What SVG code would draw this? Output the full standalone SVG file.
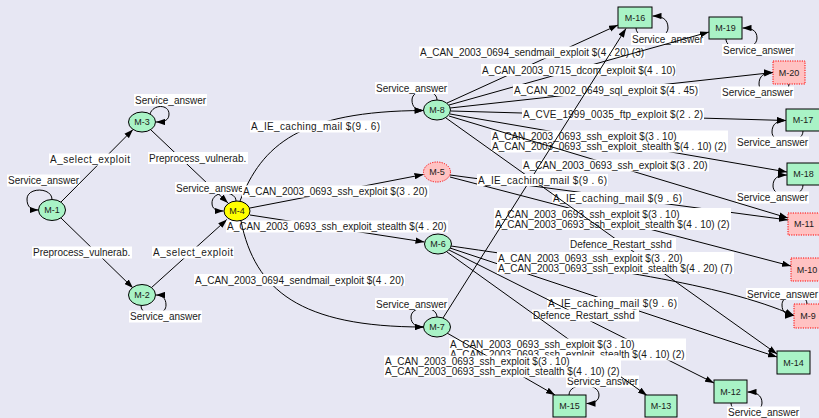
<svg xmlns="http://www.w3.org/2000/svg" width="819" height="418" viewBox="0 0 819 418">
<defs>
<marker id="ah" viewBox="0 0 10 7" refX="10" refY="3.5" markerWidth="9" markerHeight="6.5" markerUnits="userSpaceOnUse" orient="auto"><path d="M0,0L10,3.5L0,7z" fill="#000"/></marker>
<style>
.e{fill:none;stroke:#000;stroke-width:1;marker-end:url(#ah)}
.bg{fill:#fff}
text{font-family:"Liberation Sans",Arial,Helvetica,sans-serif;font-size:10px;fill:#1a1a1a}
.nt{font-size:9px;text-anchor:middle}
.g{fill:#a9f3c6;stroke:#000;stroke-width:1}
.p{fill:#ffc2c2;stroke:#f00;stroke-width:1;stroke-dasharray:1.2,1.2}
.y{fill:#ff0;stroke:#000;stroke-width:1}
</style>
</defs>
<rect width="819" height="418" fill="#e7e7f3"/>

<g id="connectors">
<!-- left part of the graph -->
<path class="e" d="M52,199.5 C52,187 27,187 27,199 C27,207 31,210 38.5,210"/>
<rect class="bg" x="7" y="174.5" width="73" height="12"/><text x="8" y="184">Service_answer</text>
<path class="e" d="M61,202 L133,129.5"/>
<rect class="bg" x="49" y="153.5" width="82" height="12"/><text x="50" y="163" textLength="80">A_select_exploit</text>
<path class="e" d="M61,218 L133,288"/>
<rect class="bg" x="32" y="246.5" width="100" height="12"/><text x="33" y="256">Preprocess_vulnerab.</text>
<path class="e" d="M150,114 C153,104 169,104 169,114 C169,120 165,122 156,122"/>
<rect class="bg" x="134" y="94" width="73" height="12"/><text x="135" y="103.5">Service_answer</text>
<path class="e" d="M151,130 L228,203"/>
<rect class="bg" x="148" y="152" width="100" height="12"/><text x="149" y="161.5">Preprocess_vulnerab.</text>
<path class="e" d="M141,305.5 C141,318 166,318 166,305 C166,298 162,295 156,295"/>
<rect class="bg" x="129" y="310.5" width="73" height="12"/><text x="130" y="320">Service_answer</text>
<path class="e" d="M151,288 L227,219.5"/>
<rect class="bg" x="152" y="246.5" width="82" height="12"/><text x="153" y="256" textLength="80">A_select_exploit</text>
<path class="e" d="M236,201 C236,190 212,190 212,203 C212,209 216,211 223.5,211"/>
<rect class="bg" x="175" y="182" width="73" height="12"/><text x="176" y="191.5">Service_answer</text>
<path class="e" d="M240,201 C262,145 300,111 423.5,110.5"/>
<rect class="bg" x="250" y="120.5" width="131" height="12"/><text x="251" y="130" textLength="129">A_IE_caching_mail $(9 . 6)</text>
<path class="e" d="M250,208 L423.5,174.5"/>
<rect class="bg" x="242" y="185.5" width="187" height="12"/><text x="243" y="195">A_CAN_2003_0693_ssh_exploit $(3 . 20)</text>
<path class="e" d="M250,215 L424.5,242"/>
<rect class="bg" x="226" y="220.5" width="222" height="12"/><text x="227" y="230">A_CAN_2003_0693_ssh_exploit_stealth $(4 . 20)</text>
<path class="e" d="M241,221 C255,290 300,327 423.5,327"/>
<rect class="bg" x="194" y="274" width="211" height="12"/><text x="195" y="283.5">A_CAN_2003_0694_sendmail_exploit $(4 . 20)</text>

<!-- self loops -->
<path class="e" d="M437,100 C437,88 412,88 412,100 C412,107 416,110.5 423.5,110.5"/>
<rect class="bg" x="375" y="82" width="73" height="12"/><text x="376" y="91.5">Service_answer</text>
<path class="e" d="M437,317 C437,305 411,305 411,317 C411,324 416,327 423.5,327"/>
<rect class="bg" x="375" y="298" width="73" height="12"/><text x="376" y="307.5">Service_answer</text>
<path class="e" d="M636,28 C636,41 668,41 668,28 C668,19 662,16 652.5,16"/>
<rect class="bg" x="631" y="33" width="73" height="12"/><text x="632" y="42.5">Service_answer</text>
<path class="e" d="M726,39 C726,52 757,52 757,38 C757,30 751,28 742.5,28"/>
<rect class="bg" x="722" y="44" width="73" height="12"/><text x="723" y="53.5">Service_answer</text>
<path class="e" d="M789,84 C789,97 759,97 759,84 C759,76 764,72.5 773,72.5"/>
<rect class="bg" x="721" y="86.5" width="73" height="12"/><text x="722" y="96">Service_answer</text>
<path class="e" d="M803,131 C803,145 772,145 772,132 C772,124 777,120.5 786,120.5"/>
<rect class="bg" x="736" y="136.5" width="73" height="12"/><text x="737" y="146">Service_answer</text>
<path class="e" d="M803,185 C803,199 773,199 773,186 C773,178 778,175 787,175"/>
<rect class="bg" x="736" y="191.5" width="73" height="12"/><text x="737" y="201">Service_answer</text>
<path class="e" d="M807,304 C807,292 782,292 782,305 C782,312 786,315.5 794,315.5"/>
<rect class="bg" x="746" y="288" width="73" height="12"/><text x="747" y="297.5">Service_answer</text>
<path class="e" d="M731,403 C731,416 762,416 762,403 C762,395 756,392 747.5,392"/>
<rect class="bg" x="727" y="406.5" width="73" height="12"/><text x="728" y="416">Service_answer</text>
<path class="e" d="M569,395 C569,382 599,382 599,395 C599,401 594,403.5 586.5,403.5"/>
<rect class="bg" x="566" y="375.5" width="73" height="12"/><text x="567" y="385">Service_answer</text>

<!-- from M-5 -->
<path class="e" d="M450,175 L788,220"/>
<rect class="bg" x="552" y="192" width="131" height="12"/><text x="553" y="201.5" textLength="129">A_IE_caching_mail $(9 . 6)</text>
<path class="e" d="M450,177 L791,266"/>
<rect class="bg" x="494" y="208" width="237" height="22"/><text x="495" y="217.5">A_CAN_2003_0693_ssh_exploit $(3 . 10)</text><text x="495" y="227.5">A_CAN_2003_0693_ssh_exploit_stealth $(4 . 10) (2)</text>

<!-- from M-8 -->
<path class="e" d="M447,103 L618,25"/>
<rect class="bg" x="419" y="46.5" width="226" height="12"/><text x="420" y="56">A_CAN_2003_0694_sendmail_exploit $(4 . 20) (3)</text>
<path class="e" d="M449,105 L709,32"/>
<rect class="bg" x="481" y="64" width="195" height="12"/><text x="482" y="73.5">A_CAN_2003_0715_dcom_exploit $(4 . 10)</text>
<path class="e" d="M450,108 L773,72.5"/>
<rect class="bg" x="513" y="84" width="186" height="12"/><text x="514" y="93.5" textLength="184">A_CAN_2002_0649_sql_exploit $(4 . 45)</text>
<path class="e" d="M451,111 L786,120.5"/>
<rect class="bg" x="522" y="108" width="182" height="12"/><text x="523" y="117.5" textLength="180">A_CVE_1999_0035_ftp_exploit $(2 . 2)</text>
<path class="e" d="M450,114 L787,172"/>
<rect class="bg" x="491" y="130.5" width="237" height="22"/><text x="492" y="140">A_CAN_2003_0693_ssh_exploit $(3 . 10)</text><text x="492" y="150">A_CAN_2003_0693_ssh_exploit_stealth $(4 . 10) (2)</text>
<path class="e" d="M449,116 L788,218"/>
<rect class="bg" x="522" y="159.5" width="187" height="12"/><text x="523" y="169">A_CAN_2003_0693_ssh_exploit $(3 . 20)</text>
<path class="e" d="M446,118 L777,354"/>
<rect class="bg" x="569" y="238" width="107" height="12"/><text x="570" y="247.5">Defence_Restart_sshd</text>

<!-- from M-6 -->
<path class="e" d="M450,248 L777,357"/>
<rect class="bg" x="547" y="297" width="131" height="12"/><text x="548" y="306.5" textLength="129">A_IE_caching_mail $(9 . 6)</text>
<path class="e" d="M449,250 L714,383"/>
<rect class="bg" x="532" y="309.5" width="107" height="12"/><text x="533" y="319">Defence_Restart_sshd</text>
<path class="e" d="M447,252 L647,395.5"/>
<rect class="bg" x="449" y="338.5" width="237" height="22"/><text x="450" y="348">A_CAN_2003_0693_ssh_exploit $(3 . 10)</text><text x="450" y="358">A_CAN_2003_0693_ssh_exploit_stealth $(4 . 10) (2)</text>
<path class="e" d="M451,246 C600,268 720,283 794,315.5"/>
<rect class="bg" x="497" y="252" width="237" height="22"/><text x="498" y="261.5">A_CAN_2003_0693_ssh_exploit $(3 . 20)</text><text x="498" y="271.5">A_CAN_2003_0693_ssh_exploit_stealth $(4 . 20) (7)</text>

<!-- from M-7 -->
<path class="e" d="M443,318 L626,28.5"/>
<rect class="bg" x="477" y="174" width="131" height="12"/><text x="478" y="183.5" textLength="129">A_IE_caching_mail $(9 . 6)</text>
<path class="e" d="M447,333 L555,395"/>
<rect class="bg" x="384" y="355.5" width="237" height="22"/><text x="385" y="365">A_CAN_2003_0693_ssh_exploit $(3 . 10)</text><text x="385" y="375">A_CAN_2003_0693_ssh_exploit_stealth $(4 . 10) (2)</text>
</g>

<g id="M-1"><ellipse class="g" cx="52" cy="210" rx="13.5" ry="10.5"/><text class="nt" x="52" y="213.2">M-1</text></g>
<g id="M-2"><ellipse class="g" cx="142" cy="295" rx="13.5" ry="10.5"/><text class="nt" x="142" y="298.2">M-2</text></g>
<g id="M-3"><ellipse class="g" cx="142" cy="122" rx="13.5" ry="10"/><text class="nt" x="142" y="125.2">M-3</text></g>
<g id="M-4"><ellipse class="y" cx="237" cy="211" rx="13" ry="10"/><text class="nt" x="237" y="214.2">M-4</text></g>
<g id="M-5"><ellipse class="p" cx="437" cy="172" rx="13.5" ry="10"/><text class="nt" x="437" y="175.2">M-5</text></g>
<g id="M-6"><ellipse class="g" cx="438" cy="244" rx="13.5" ry="10"/><text class="nt" x="438" y="247.2">M-6</text></g>
<g id="M-7"><ellipse class="g" cx="437" cy="327" rx="13.5" ry="10"/><text class="nt" x="437" y="330.2">M-7</text></g>
<g id="M-8"><ellipse class="g" cx="437" cy="110" rx="13.5" ry="10"/><text class="nt" x="437" y="113.2">M-8</text></g>
<g id="M-16"><rect class="g" x="618" y="7" width="34" height="21"/><text class="nt" x="635" y="20.7">M-16</text></g>
<g id="M-19"><rect class="g" x="709" y="17" width="33" height="22"/><text class="nt" x="725.5" y="31.2">M-19</text></g>
<g id="M-20"><rect class="p" x="773" y="61" width="32" height="23"/><text class="nt" x="789" y="75.7">M-20</text></g>
<g id="M-17"><rect class="g" x="786" y="109" width="34" height="22"/><text class="nt" x="803" y="123.2">M-17</text></g>
<g id="M-18"><rect class="g" x="787" y="163" width="33" height="22"/><text class="nt" x="803.5" y="177.2">M-18</text></g>
<g id="M-11"><rect class="p" x="788" y="213" width="32" height="22"/><text class="nt" x="804" y="227.2">M-11</text></g>
<g id="M-10"><rect class="p" x="791" y="258" width="32" height="23"/><text class="nt" x="807" y="272.7">M-10</text></g>
<g id="M-9"><rect class="p" x="794" y="304" width="29" height="24"/><text class="nt" x="808" y="319.2">M-9</text></g>
<g id="M-14"><rect class="g" x="777" y="351" width="33" height="23"/><text class="nt" x="793.5" y="365.7">M-14</text></g>
<g id="M-12"><rect class="g" x="714" y="380" width="33" height="23"/><text class="nt" x="730.5" y="394.7">M-12</text></g>
<g id="M-13"><rect class="g" x="645" y="395" width="32" height="22"/><text class="nt" x="661" y="409.2">M-13</text></g>
<g id="M-15"><rect class="g" x="553" y="395" width="33" height="22"/><text class="nt" x="569.5" y="409.2">M-15</text></g>
</svg>
